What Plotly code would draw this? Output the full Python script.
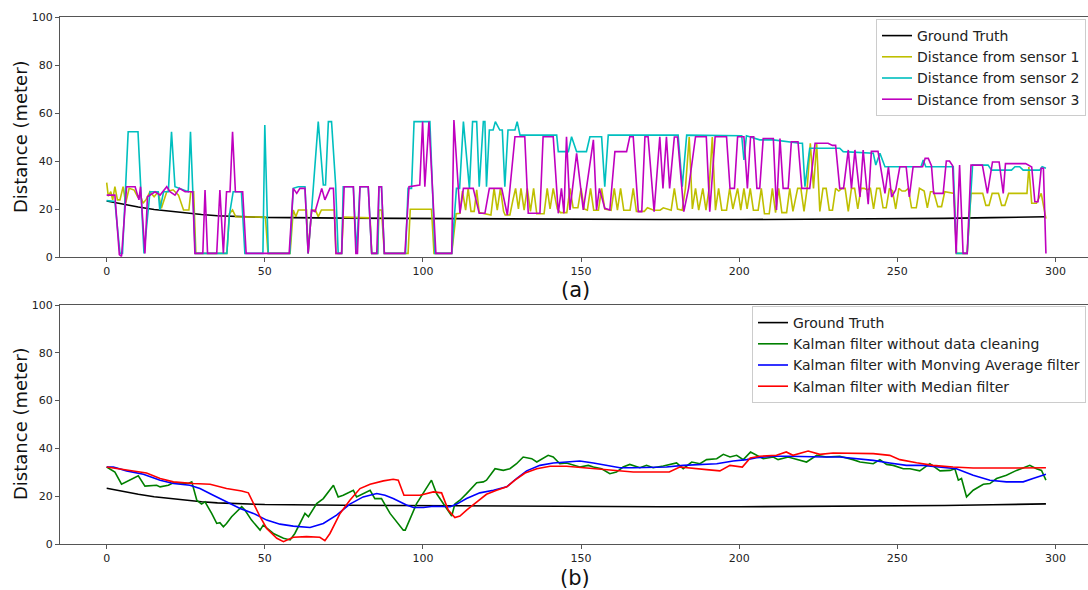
import plotly.graph_objects as go

# ---------------- data (x = sample index, y = distance in meters) ----------------
ground_truth_x = [0, 5, 10, 15, 20, 25, 30, 35, 40, 45, 50, 75, 100, 125, 150, 175, 200, 225, 250, 265, 280, 297]
ground_truth_y = [23.3, 22.0, 20.8, 19.8, 19.0, 18.3, 17.7, 17.2, 16.9, 16.7, 16.5, 16.2, 16.0, 15.8, 15.7, 15.6, 15.6, 15.7, 15.9, 16.1, 16.4, 16.8]

sensor1_pts = [
    (0, 31.0), (0.5, 25.4), (1.3, 27.2), (1.9, 23.8), (2.6, 29.3), (3.4, 23.8), (4.2, 23.8), (5.2, 29.3),
    (6.0, 22.4), (7.1, 28.6), (8.7, 27.9), (9.8, 25.1), (10.6, 25.8), (11.5, 22.4), (12.5, 24.0), (13.7, 27.2),
    (15.0, 25.1), (16.3, 27.2), (17.3, 20.3), (19.0, 27.2), (21.0, 28.0), (22.7, 25.8), (24.3, 19.6), (26.0, 19.6),
    (26.6, 27.2), (27.5, 27.2), (28.2, 1.5), (38.0, 1.5), (38.8, 18.0), (39.8, 19.6), (40.8, 16.8), (50.2, 16.6),
    (51.0, 1.5), (58.0, 1.5), (59.0, 19.6), (59.8, 16.8), (60.6, 19.6), (63.2, 19.6), (63.7, 1.5), (64.8, 19.6),
    (66.0, 19.6), (66.9, 16.8), (67.9, 19.6), (72.0, 19.6), (72.5, 1.5), (74.3, 1.5), (74.8, 16.6), (83.3, 16.3),
    (83.8, 1.5), (85.7, 1.5), (86.1, 19.6), (86.9, 19.6), (87.8, 1.5), (95.3, 1.5), (96.0, 19.9), (102.7, 19.9),
    (103.5, 1.5), (109.1, 1.5), (110.5, 18.0), (111.7, 18.2), (112.5, 27.5), (113.5, 19.5), (114.3, 28.6),
    (115.2, 19.0), (116.2, 19.0), (117.0, 28.0), (117.8, 18.5), (121.5, 17.5), (122.5, 28.6), (123.5, 19.5),
    (124.5, 28.6), (125.5, 19.0), (126.0, 17.5), (127.5, 17.5), (128.5, 24.0), (129.3, 28.6), (130.2, 20.0),
    (131.0, 28.6), (132.0, 19.5), (133.0, 28.6), (134.0, 19.0), (135.0, 28.6), (136.0, 18.0), (138.3, 18.0),
    (139.3, 28.6), (140.2, 20.0), (141.2, 28.6), (142.5, 20.0), (143.5, 18.5), (145.5, 18.5), (146.5, 28.6),
    (147.5, 20.5), (149.0, 20.5), (150.0, 28.6), (151.0, 20.0), (152.0, 19.5), (153.0, 28.6), (154.0, 19.5),
    (155.5, 19.5), (156.5, 28.6), (157.5, 20.0), (159.5, 19.5), (160.5, 28.6), (161.5, 19.5), (162.5, 28.6),
    (163.5, 19.5), (165.5, 19.5), (166.5, 28.6), (167.5, 19.0), (170.0, 19.0), (171.0, 20.5), (173.0, 19.5),
    (175.0, 19.5), (176.0, 20.5), (178.5, 19.5), (179.5, 28.6), (180.5, 20.0), (182.0, 19.5), (183.0, 28.6),
    (184.2, 50.0), (185.2, 20.0), (186.2, 28.6), (187.2, 19.5), (188.5, 28.6), (189.5, 19.5), (190.5, 28.6),
    (191.5, 50.0), (192.5, 19.5), (193.5, 28.6), (194.5, 19.5), (196.0, 19.5), (197.0, 28.6), (198.0, 20.0),
    (199.5, 28.6), (200.5, 19.5), (201.5, 28.6), (202.5, 20.0), (203.5, 28.6), (204.5, 19.5), (206.0, 19.5),
    (207.0, 28.6), (208.0, 18.0), (209.5, 18.0), (210.5, 28.6), (211.5, 18.5), (212.5, 28.6), (213.5, 18.5),
    (215.0, 18.5), (216.0, 28.6), (217.0, 19.0), (218.5, 28.6), (219.5, 28.6), (220.5, 19.0), (221.5, 28.6),
    (222.5, 47.4), (223.5, 28.6), (224.5, 47.4), (225.5, 19.0), (226.5, 28.6), (227.5, 28.6), (228.5, 19.5),
    (229.5, 19.5), (230.5, 28.6), (231.5, 27.5), (232.5, 28.6), (233.5, 28.6), (234.5, 19.0), (235.5, 28.6),
    (236.5, 28.6), (237.5, 20.0), (238.5, 28.6), (239.5, 28.6), (240.5, 28.0), (241.5, 28.6), (242.5, 20.0),
    (243.5, 28.6), (244.5, 28.6), (245.5, 20.5), (246.5, 20.5), (247.5, 28.6), (248.5, 27.5), (249.5, 20.0),
    (250.5, 28.6), (251.5, 27.5), (252.5, 27.5), (253.5, 28.6), (254.5, 20.5), (256.0, 20.5), (257.0, 28.6),
    (258.5, 27.5), (259.5, 20.5), (260.5, 27.2), (261.5, 27.2), (262.8, 21.0), (264.0, 21.0), (265.0, 27.2),
    (268.0, 26.5), (268.7, 1.5), (272.1, 1.5), (273.3, 26.5), (277.0, 26.5), (278.0, 21.5), (279.0, 21.5),
    (280.0, 26.5), (282.0, 26.5), (283.0, 21.5), (284.0, 21.5), (285.2, 26.5), (291.0, 26.5), (291.6, 37.5),
    (292.5, 22.4), (294.0, 22.4), (295.5, 26.5), (297.0, 16.0),
]

sensor2_pts = [
    (0, 23.5), (2.6, 23.1), (4.2, 1.5), (5.0, 1.5), (6.8, 52.2), (9.9, 52.2), (11.8, 1.5), (13.7, 27.2),
    (16.3, 27.2), (16.8, 19.6), (18.0, 27.2), (19.5, 27.2), (20.5, 52.2), (21.6, 29.3), (25.8, 27.2), (26.5, 52.2),
    (28.0, 1.5), (38.0, 1.5), (38.8, 17.5), (40.0, 27.2), (42.6, 27.2), (43.7, 1.5), (49.4, 1.5), (50.0, 55.0),
    (51.1, 1.5), (57.9, 1.5), (59.0, 28.6), (60.6, 29.3), (62.7, 29.3), (63.7, 1.5), (64.8, 19.6), (66.9, 56.4),
    (68.5, 30.0), (69.2, 30.0), (70.1, 56.4), (71.1, 56.4), (72.4, 30.0), (73.2, 1.5), (74.3, 1.5), (74.8, 29.3),
    (78.0, 29.3), (79.0, 1.5), (80.1, 29.3), (82.7, 29.3), (83.8, 1.5), (85.7, 1.5), (86.1, 29.3), (86.9, 29.3),
    (87.8, 1.5), (94.5, 1.5), (95.3, 28.6), (96.4, 28.6), (97.2, 56.4), (102.2, 56.4), (103.8, 1.5), (109.1, 1.5),
    (110.6, 28.6), (111.6, 28.6), (112.8, 56.4), (114.7, 28.6), (115.7, 56.4), (117.0, 56.4), (117.8, 29.3),
    (119.1, 56.4), (119.6, 56.4), (120.1, 29.3), (121.0, 52.9), (122.2, 52.9), (122.9, 56.4), (124.3, 52.9),
    (125.1, 52.9), (125.9, 29.3), (126.9, 52.9), (129.1, 52.9), (129.8, 56.4), (130.7, 50.8), (142.3, 50.8),
    (142.8, 43.9), (146.0, 43.9), (147.0, 50.1), (148.6, 43.9), (151.7, 43.9), (152.8, 50.1), (156.5, 50.1),
    (157.5, 29.3), (158.6, 50.8), (180.7, 50.8), (182.0, 29.3), (183.4, 50.8), (200.8, 50.5), (201.5, 40.4),
    (202.3, 50.5), (206.5, 48.8), (210.8, 48.8), (219.2, 47.4), (220.0, 47.4), (220.8, 29.3), (222.3, 45.3),
    (231.8, 45.3), (232.9, 43.9), (242.4, 43.2), (243.2, 38.3), (244.5, 43.2), (246.1, 37.6), (257.5, 37.6),
    (258.2, 40.4), (259.0, 37.6), (267.7, 37.6), (268.7, 1.5), (272.1, 1.5), (273.8, 38.3), (278.7, 38.3),
    (279.8, 36.2), (286.1, 36.2), (287.2, 37.6), (288.7, 37.6), (289.8, 36.2), (295.0, 36.2), (295.8, 37.6),
    (297.0, 37.0),
]

sensor3_pts = [
    (0, 25.8), (2.6, 25.8), (4.0, 1.0), (4.7, 0.3), (6.3, 29.3), (9.0, 29.3), (10.2, 23.8), (10.7, 29.3),
    (12.1, 1.5), (12.9, 25.1), (15.3, 27.2), (16.9, 25.8), (19.0, 29.3), (20.0, 27.2), (21.6, 25.8), (23.0, 28.6),
    (24.8, 27.2), (27.2, 27.2), (27.9, 1.5), (30.4, 1.5), (31.1, 27.9), (31.9, 1.5), (34.8, 1.5), (35.8, 27.9),
    (36.9, 1.5), (37.9, 27.2), (39.0, 27.2), (39.8, 52.2), (40.7, 27.2), (43.0, 27.2), (44.1, 1.5), (57.7, 1.5),
    (59.0, 28.6), (60.1, 26.5), (61.1, 28.6), (62.7, 28.6), (63.7, 1.5), (64.8, 19.6), (65.9, 18.9), (68.0, 28.6),
    (69.0, 23.8), (70.6, 28.6), (71.7, 28.6), (72.5, 1.5), (74.3, 1.5), (75.1, 29.3), (78.0, 29.3), (78.8, 1.5),
    (79.3, 1.5), (80.1, 29.3), (82.7, 29.3), (83.8, 1.5), (85.4, 1.5), (86.1, 29.3), (86.9, 29.3), (87.8, 1.5),
    (94.3, 1.5), (95.6, 29.3), (99.0, 30.0), (99.9, 56.4), (100.6, 29.3), (101.9, 56.4), (104.1, 1.5),
    (109.1, 1.5), (109.8, 57.1), (111.7, 18.2), (112.8, 28.6), (115.9, 28.6), (117.8, 18.2), (119.6, 18.2),
    (121.0, 28.6), (124.9, 28.6), (126.7, 17.5), (129.1, 50.1), (132.2, 50.1), (133.3, 18.2), (137.0, 18.2),
    (138.0, 50.1), (141.2, 50.1), (142.8, 18.2), (143.8, 28.6), (144.6, 18.2), (145.4, 50.1), (146.5, 19.6),
    (148.6, 43.2), (150.7, 19.6), (151.7, 28.6), (153.9, 48.8), (154.9, 19.6), (155.8, 28.6), (157.5, 20.3),
    (159.1, 19.6), (160.7, 43.9), (164.4, 43.9), (165.4, 50.1), (166.5, 50.1), (168.1, 18.9), (169.2, 18.9),
    (170.2, 50.1), (171.2, 50.1), (173.1, 18.9), (174.9, 50.1), (175.9, 28.6), (177.0, 50.1), (178.0, 28.6),
    (179.5, 50.0), (180.5, 50.0), (182.5, 18.9), (184.0, 28.6), (186.2, 50.1), (189.6, 50.1), (190.7, 18.9),
    (192.4, 50.1), (196.0, 50.1), (197.1, 28.6), (198.5, 28.6), (199.5, 50.1), (201.5, 50.1), (202.6, 28.6),
    (203.6, 50.1), (204.6, 50.1), (205.6, 28.6), (206.5, 28.6), (207.6, 49.4), (210.8, 49.4), (211.8, 19.6),
    (212.9, 49.4), (213.9, 28.6), (215.5, 28.6), (216.5, 48.0), (218.6, 48.0), (219.8, 28.6), (222.3, 28.6),
    (224.0, 47.4), (228.1, 47.4), (229.5, 46.5), (230.5, 46.5), (231.8, 28.6), (233.0, 28.6), (234.5, 44.6),
    (235.5, 28.6), (236.6, 44.6), (238.2, 25.0), (239.2, 44.6), (240.8, 22.0), (241.8, 44.0), (243.9, 44.0),
    (246.1, 26.5), (247.2, 37.6), (248.2, 25.0), (249.5, 28.0), (250.8, 37.6), (252.8, 37.6), (253.8, 25.0),
    (255.0, 37.6), (258.0, 37.6), (258.8, 41.1), (259.8, 41.1), (260.8, 38.0), (261.5, 26.5), (264.5, 26.5),
    (265.5, 40.0), (266.5, 40.0), (267.5, 38.0), (268.6, 1.5), (269.7, 38.3), (270.8, 1.5), (272.1, 1.5),
    (273.3, 38.3), (276.9, 38.3), (278.5, 26.5), (280.1, 39.6), (282.2, 39.6), (283.5, 26.5), (284.2, 38.9),
    (290.6, 38.9), (292.5, 37.5), (293.5, 23.0), (294.5, 23.0), (295.5, 37.0), (296.2, 37.0), (297.0, 1.5),
]

kalman_raw_pts = [
    (0, 32.2), (2.6, 30.1), (4.7, 25.0), (6.3, 26.0), (10.0, 28.5), (12.1, 24.2), (15.8, 24.6), (16.9, 23.9),
    (19.5, 24.6), (21.1, 25.6), (23.7, 25.6), (25.8, 25.3), (26.9, 26.0), (28.5, 18.3), (30.0, 16.7), (31.1, 17.6),
    (33.2, 12.8), (34.8, 8.6), (35.8, 8.9), (36.9, 7.2), (37.9, 8.6), (39.5, 11.4), (42.7, 15.6), (43.7, 14.2),
    (45.8, 10.0), (48.5, 5.8), (49.5, 7.9), (52.7, 4.4), (55.9, 2.4), (58.0, 1.7), (59.5, 4.4), (62.7, 12.8),
    (63.8, 11.4), (66.4, 16.9), (68.5, 19.0), (71.7, 24.6), (73.2, 19.7), (74.8, 20.4), (78.0, 22.5), (79.0, 19.7),
    (83.3, 22.5), (84.8, 19.0), (86.9, 19.0), (89.6, 12.8), (93.8, 5.8), (94.4, 5.8), (98.0, 16.9), (100.6, 22.5),
    (102.7, 26.7), (104.3, 21.1), (107.0, 15.6), (109.1, 11.7), (110.1, 16.7), (111.7, 18.3), (113.8, 21.1),
    (117.0, 25.6), (119.1, 26.0), (120.1, 26.7), (122.8, 31.5), (125.4, 30.8), (127.5, 31.5), (129.6, 33.6),
    (131.7, 36.4), (134.4, 35.7), (136.0, 34.3), (139.6, 37.1), (141.2, 36.4), (143.3, 33.6), (145.4, 33.9),
    (147.5, 32.9), (149.6, 32.2), (152.3, 32.9), (153.9, 32.2), (156.5, 31.5), (159.1, 29.4), (161.2, 30.1),
    (163.3, 32.2), (165.4, 33.3), (168.6, 31.9), (170.7, 32.9), (172.8, 31.9), (176.0, 32.6), (180.2, 33.9),
    (182.3, 31.5), (185.0, 34.3), (187.6, 33.6), (189.7, 35.3), (192.9, 35.7), (195.0, 37.5), (197.1, 36.4),
    (199.2, 37.1), (201.3, 35.3), (203.6, 38.5), (207.6, 35.7), (210.8, 36.4), (212.3, 35.3), (215.5, 36.4),
    (221.3, 34.3), (224.5, 37.1), (227.6, 36.4), (231.8, 36.7), (236.0, 35.3), (238.2, 34.3), (242.4, 33.6),
    (244.5, 35.3), (246.6, 33.3), (248.7, 32.9), (251.9, 31.5), (254.0, 31.5), (257.1, 30.6), (260.3, 33.6),
    (263.5, 30.6), (266.7, 30.8), (268.2, 31.5), (269.3, 26.7), (270.3, 27.4), (271.9, 19.7), (274.0, 22.5),
    (277.2, 25.0), (279.3, 25.3), (281.4, 27.4), (284.5, 28.8), (287.7, 30.8), (291.9, 32.9), (294.0, 31.5),
    (295.6, 30.8), (297.0, 26.7),
]

kalman_ma_pts = [
    (0, 32.2), (2.1, 32.2), (6.3, 30.6), (11.6, 29.2), (16.9, 26.7), (21.1, 25.3), (26.3, 24.6), (29.5, 23.2),
    (33.7, 20.4), (37.9, 17.6), (42.2, 14.9), (46.4, 12.8), (50.6, 10.0), (54.8, 8.3), (59.0, 7.5), (64.3, 6.9),
    (68.5, 8.6), (72.7, 12.1), (76.9, 16.7), (81.1, 19.7), (85.4, 21.1), (88.0, 20.4), (90.6, 19.0), (94.8, 16.3),
    (97.0, 15.3), (100.2, 15.3), (103.3, 15.8), (108.6, 15.6), (110.7, 16.7), (113.8, 19.0), (118.0, 21.4),
    (122.3, 22.5), (126.5, 23.9), (129.6, 27.4), (132.8, 30.6), (137.0, 32.9), (141.2, 33.9), (145.4, 34.3),
    (149.6, 34.7), (153.9, 33.9), (158.1, 32.9), (162.3, 31.9), (166.5, 31.9), (172.8, 31.9), (177.0, 32.2),
    (182.3, 32.9), (187.6, 33.3), (192.9, 33.6), (198.1, 34.7), (202.4, 35.3), (205.5, 36.1), (210.8, 36.7),
    (216.0, 36.7), (221.3, 36.4), (226.6, 36.4), (231.8, 36.4), (237.1, 35.7), (242.4, 35.0), (247.6, 33.9),
    (252.9, 32.9), (258.2, 32.9), (263.5, 32.2), (268.7, 31.5), (274.0, 28.8), (279.3, 26.7), (284.5, 26.0),
    (289.8, 26.0), (292.9, 27.4), (297.0, 29.2),
]

kalman_median_pts = [
    (0, 32.2), (6.3, 30.8), (12.6, 29.7), (16.9, 27.4), (21.1, 26.0), (27.4, 25.3), (32.7, 25.0), (37.9, 23.2),
    (42.7, 22.2), (44.8, 21.4), (46.4, 16.9), (48.5, 11.4), (50.6, 6.5), (53.8, 2.4), (55.9, 1.0), (59.0, 2.8),
    (63.2, 3.1), (67.4, 2.8), (69.0, 1.4), (70.6, 4.4), (73.8, 12.8), (76.9, 18.3), (80.1, 23.2), (83.3, 25.0),
    (87.5, 26.4), (90.6, 27.1), (92.2, 26.7), (94.0, 20.4), (99.1, 20.4), (101.2, 21.1), (103.3, 21.8),
    (105.9, 21.4), (108.0, 14.2), (110.1, 11.1), (111.7, 11.7), (113.8, 14.2), (117.0, 17.6), (120.1, 20.8),
    (123.3, 22.5), (126.5, 23.9), (129.1, 26.7), (132.3, 29.7), (136.0, 31.5), (140.2, 32.5), (145.4, 32.5),
    (150.7, 31.9), (156.0, 31.1), (161.2, 30.6), (166.5, 30.1), (171.8, 30.1), (177.9, 30.1), (181.2, 32.2),
    (185.4, 31.5), (189.7, 31.1), (193.9, 30.6), (197.1, 32.9), (201.0, 32.2), (203.5, 36.0), (206.5, 36.7),
    (211.8, 37.1), (214.9, 38.5), (217.0, 37.1), (221.8, 38.9), (225.5, 37.5), (229.7, 38.1), (233.9, 38.1),
    (242.4, 37.8), (247.6, 37.1), (250.8, 35.3), (256.1, 34.0), (261.3, 32.9), (267.6, 32.2), (274.0, 31.8),
    (284.5, 31.8), (297.0, 31.9),
]

x_ticks = [0, 50, 100, 150, 200, 250, 300]
y_ticks = [0, 20, 40, 60, 80, 100]

# ---------------- figure ----------------
W, H = 1088, 590
FONT = "DejaVu Sans"
fig = go.Figure()


def add(pts_x, pts_y, name, color, xa, ya, legend):
    fig.add_trace(go.Scatter(x=pts_x, y=pts_y, mode="lines", name=name,
                             line=dict(color=color, width=1.6),
                             xaxis=xa, yaxis=ya, legend=legend))


def split(pts):
    return [p[0] for p in pts], [p[1] for p in pts]


add(ground_truth_x, ground_truth_y, "Ground Truth", "black", "x", "y", "legend")
add(*split(sensor1_pts), "Distance from sensor 1", "#bfbf00", "x", "y", "legend")
add(*split(sensor2_pts), "Distance from sensor 2", "#00bfbf", "x", "y", "legend")
add(*split(sensor3_pts), "Distance from sensor 3", "#bf00bf", "x", "y", "legend")

add(ground_truth_x, ground_truth_y, "Ground Truth", "black", "x2", "y2", "legend2")
add(*split(kalman_raw_pts), "Kalman filter without data cleaning", "#008000", "x2", "y2", "legend2")
add(*split(kalman_ma_pts), "Kalman filter with Monving Average filter", "#0000ff", "x2", "y2", "legend2")
add(*split(kalman_median_pts), "Kalman filter with Median filter", "#ff0000", "x2", "y2", "legend2")

xdom = [60 / W, 1.0]
top_dom = [(H - 257) / H, (H - 17) / H]
bot_dom = [(H - 544) / H, (H - 305) / H]
xrange = [-14.76, 310.3]

axis_common = dict(showline=True, linecolor="#555555", linewidth=1, ticks="outside", ticklen=4,
                   tickcolor="#555555", showgrid=False, zeroline=False,
                   tickfont=dict(family=FONT, size=11, color="#222222"), automargin=False)

legend_common = dict(xanchor="right", yanchor="top", bgcolor="rgba(255,255,255,0.85)",
                     bordercolor="#cccccc", borderwidth=1,
                     font=dict(family=FONT, size=14, color="#222222"), tracegroupgap=0)

fig.update_layout(
    width=W, height=H, margin=dict(l=0, r=0, t=0, b=0),
    paper_bgcolor="white", plot_bgcolor="white",
    xaxis=dict(domain=xdom, range=xrange, anchor="y", tickvals=x_ticks, mirror=True, **axis_common),
    yaxis=dict(domain=top_dom, range=[0, 100], anchor="x", tickvals=y_ticks, **axis_common),
    xaxis2=dict(domain=xdom, range=xrange, anchor="y2", tickvals=x_ticks, mirror=True, **axis_common),
    yaxis2=dict(domain=bot_dom, range=[0, 100], anchor="x2", tickvals=y_ticks, **axis_common),
    legend=dict(x=1086 / W, y=(H - 19) / H, **legend_common),
    legend2=dict(x=1086 / W, y=(H - 306) / H, **legend_common),
    annotations=[
        dict(text="Distance (meter)", x=20 / W, y=(H - 137) / H, xref="paper", yref="paper",
             xanchor="center", yanchor="middle",
             textangle=-90, showarrow=False, font=dict(family=FONT, size=18, color="#111111")),
        dict(text="Distance (meter)", x=20 / W, y=(H - 424) / H, xref="paper", yref="paper",
             xanchor="center", yanchor="middle",
             textangle=-90, showarrow=False, font=dict(family=FONT, size=18, color="#111111")),
        dict(text="(a)", x=575 / W, y=(H - 290) / H, xref="paper", yref="paper",
             xanchor="center", yanchor="middle",
             showarrow=False, font=dict(family=FONT, size=21, color="#111111")),
        dict(text="(b)", x=575 / W, y=(H - 578) / H, xref="paper", yref="paper",
             xanchor="center", yanchor="middle",
             showarrow=False, font=dict(family=FONT, size=21, color="#111111")),
    ],
)

fig.write_html("out.html")
